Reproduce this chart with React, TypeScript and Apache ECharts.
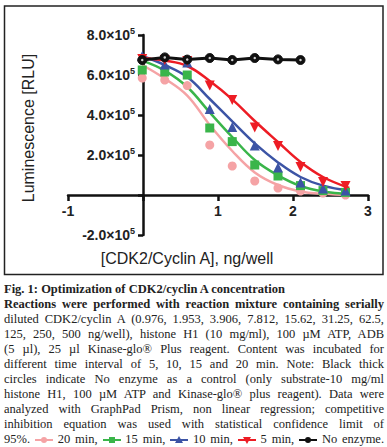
import React, { useEffect, useRef } from "react";
import * as echarts from "echarts";

// log10 of CDK2/Cyclin A concentration (ng/well)
const logConc = [-0.01, 0.29, 0.59, 0.89, 1.19, 1.49, 1.8, 2.1, 2.4, 2.7];
const fitX = [-0.01, 0.29, 0.59, 0.89, 1.19, 1.49, 1.8, 2.1, 2.4, 2.75];

// measured points (RLU)
const pink20 = [585000, 575000, 547000, 250000, 145000, 70000, 35000, 20000, 10000, 0];
const green15 = [625000, 615000, 600000, 335000, 267000, 150000, 95000, 47000, 22000, 13000];
const blue10 = [695000, 652000, 663000, 430000, 340000, 248000, 138000, 63000, 33000, 22000];
const red5 = [680000, 675000, 670000, 548000, 475000, 338000, 245000, 140000, 65000, 45000];
const noEnzyme = [675000, 688000, 677000, 685000, 675000, 685000, 678000, 675000];

// fitted curves (RLU)
const pinkFit = [650000, 582000, 497000, 350000, 220000, 113000, 50000, 18000, 6000, 0];
const greenFit = [672000, 622000, 540000, 413000, 290000, 175000, 98000, 45000, 18000, 6000];
const blueFit = [695000, 650000, 590000, 480000, 368000, 258000, 163000, 90000, 47000, 22000];
const redFit = [685000, 672000, 645000, 570000, 478000, 370000, 265000, 165000, 90000, 35000];

const yTicks = [-200000, 0, 200000, 400000, 600000, 800000];
const xTicks = [-1, 0, 1, 2, 3];

const C = {
  pink: "#f5a3a5",
  green: "#3ab54a",
  blue: "#3c54a5",
  red: "#ed1c24",
  black: "#111111",
};

const pair = (xs: number[], ys: number[]) => ys.map((y, i) => [xs[i], y]);

const captionLines: { text: string; bold?: boolean; last?: boolean }[] = [
  { text: "Fig. 1: Optimization of CDK2/cyclin A concentration", bold: true, last: true },
  { text: "Reactions were performed with reaction mixture containing serially", bold: true },
  { text: "diluted CDK2/cyclin A (0.976, 1.953, 3.906, 7.812, 15.62, 31.25, 62.5," },
  { text: "125, 250, 500 ng/well), histone H1 (10 mg/ml), 100 µM ATP, ADB" },
  { text: "(5 µl), 25 µl Kinase-glo® Plus reagent. Content was incubated for" },
  { text: "different time interval of 5, 10, 15 and 20 min. Note: Black thick" },
  { text: "circles indicate No enzyme as a control (only substrate-10 mg/ml" },
  { text: "histone H1, 100 µM ATP and Kinase-glo® plus reagent). Data were" },
  { text: "analyzed with GraphPad Prism, non linear regression; competitive" },
  { text: "inhibition equation was used with statistical confidence limit of" },
];

const legendItems = [
  { color: C.pink, shape: "circle", label: "20 min," },
  { color: C.green, shape: "square", label: "15 min," },
  { color: C.blue, shape: "up", label: "10 min," },
  { color: C.red, shape: "down", label: "5 min," },
  { color: C.black, shape: "circle", label: "No enzyme." },
];

function Mark({ color, shape }: { color: string; shape: string }) {
  let sh: React.CSSProperties = {};
  if (shape === "circle") sh = { width: 6, height: 6, borderRadius: "50%", background: color, left: 6, top: 1 };
  if (shape === "square") sh = { width: 6, height: 6, background: color, left: 6, top: 1 };
  if (shape === "up")
    sh = { width: 0, height: 0, borderLeft: "4px solid transparent", borderRight: "4px solid transparent", borderBottom: `7px solid ${color}`, left: 5, top: 0 };
  if (shape === "down")
    sh = { width: 0, height: 0, borderLeft: "4px solid transparent", borderRight: "4px solid transparent", borderTop: `7px solid ${color}`, left: 5, top: 1 };
  return (
    <span style={{ display: "inline-block", position: "relative", width: 18, height: 8, verticalAlign: "middle" }}>
      <span style={{ position: "absolute", left: 0, right: 0, top: 3, height: 2, background: color }} />
      <span style={{ position: "absolute", ...sh }} />
    </span>
  );
}

export default function App() {
  const ref = useRef<HTMLDivElement>(null);

  useEffect(() => {
    if (!ref.current) return;
    const chart = echarts.init(ref.current, null, { renderer: "svg" });
    const font = "'Liberation Sans', Arial, Helvetica, sans-serif";
    const fitSeries = (data: number[], color: string) => ({
      type: "line",
      data: pair(fitX, data),
      smooth: 0.4,
      showSymbol: false,
      symbol: "none",
      lineStyle: { color, width: 2.5 },
      z: 2,
      silent: true,
    });
    const pointSeries = (data: number[], color: string, symbol: string, size: number, rot = 0) => ({
      type: "scatter",
      data: pair(logConc, data),
      symbol,
      symbolSize: size,
      symbolRotate: rot,
      itemStyle: { color, opacity: 1 },
      z: 3,
      silent: true,
    });
    chart.setOption({
      animation: false,
      backgroundColor: "#ffffff",
      grid: { left: 68, top: 35, width: 300, height: 200, containLabel: false },
      xAxis: {
        type: "value",
        position: "bottom",
        offset: -40,
        min: xTicks[0],
        max: xTicks[xTicks.length - 1],
        interval: 1,
        axisLine: { onZero: false, lineStyle: { color: "#111", width: 2.5 } },
        axisTick: { show: true, length: 6, lineStyle: { color: "#111", width: 2.5 } },
        axisLabel: {
          margin: 9,
          color: "#222",
          fontFamily: font,
          fontWeight: "bold",
          fontSize: 14,
          formatter: (v: number) => (v === 0 ? "" : String(v)),
        },
        splitLine: { show: false },
      },
      yAxis: {
        type: "value",
        position: "left",
        offset: -75,
        min: yTicks[0],
        max: yTicks[yTicks.length - 1],
        interval: 200000,
        axisLine: { onZero: false, lineStyle: { color: "#111", width: 2.5 } },
        axisTick: { show: true, length: 5, lineStyle: { color: "#111", width: 2.5 } },
        axisLabel: {
          margin: 8,
          color: "#222",
          fontFamily: font,
          formatter: (v: number) => (v === 0 ? "" : `{m|${(v / 100000).toFixed(1)}×10}{s|5}`),
          rich: {
            m: { fontSize: 14, fontWeight: "bold", fontFamily: font, color: "#222" },
            s: { fontSize: 9, fontWeight: "bold", fontFamily: font, color: "#222", padding: [0, 0, 9, 0] },
          },
        },
        splitLine: { show: false },
      },
      graphic: [
        {
          type: "rect",
          shape: { x: 4.5, y: 6, width: 378.5, height: 268.5 },
          style: { fill: "none", stroke: "#222", lineWidth: 1.5 },
          silent: true,
        },
        {
          type: "text",
          x: 28,
          y: 128,
          rotation: Math.PI / 2,
          style: {
            text: "Luminescence [RLU]",
            fontFamily: font,
            fontSize: 16,
            fill: "#222",
            align: "center",
            verticalAlign: "middle",
          },
        },
        {
          type: "text",
          x: 187,
          y: 258,
          style: {
            text: "[CDK2/Cyclin A], ng/well",
            fontFamily: font,
            fontSize: 16,
            fill: "#222",
            align: "center",
            verticalAlign: "middle",
          },
        },
      ],
      series: [
        fitSeries(pinkFit, C.pink),
        fitSeries(greenFit, C.green),
        fitSeries(blueFit, C.blue),
        fitSeries(redFit, C.red),
        pointSeries(pink20, C.pink, "circle", 9),
        pointSeries(green15, C.green, "rect", 9),
        pointSeries(blue10, C.blue, "triangle", 10),
        pointSeries(red5, C.red, "triangle", 10, 180),
        {
          type: "line",
          data: pair(logConc, noEnzyme),
          symbol: "circle",
          symbolSize: 9,
          showSymbol: true,
          lineStyle: { color: C.black, width: 3 },
          itemStyle: { color: C.black, borderColor: C.black, borderWidth: 1 },
          z: 4,
          silent: true,
        },
        {
          type: "scatter",
          data: pair(logConc, noEnzyme),
          symbol: "circle",
          symbolSize: 2.5,
          itemStyle: { color: "#ffffff" },
          z: 5,
          silent: true,
        },
      ],
    });
    return () => chart.dispose();
  }, []);

  const lineStyle = (bold?: boolean, last?: boolean): React.CSSProperties => ({
    height: 15,
    lineHeight: "15px",
    fontWeight: bold ? "bold" : "normal",
    textAlign: last ? "left" : "justify",
    textAlignLast: last ? "left" : "justify",
    whiteSpace: "nowrap",
  } as React.CSSProperties);

  return (
    <div style={{ position: "absolute", left: 0, top: 0, width: 387, height: 447, background: "#fff", overflow: "hidden" }}>
      <div ref={ref} style={{ position: "absolute", left: 0, top: 0, width: 387, height: 280 }} />
      <div
        style={{
          position: "absolute",
          left: 4,
          top: 281.5,
          width: 380,
          fontFamily: "'Liberation Serif', 'Times New Roman', serif",
          fontSize: 12.5,
          color: "#222",
        }}
      >
        {captionLines.map((l, i) => (
          <div key={i} style={lineStyle(l.bold, l.last)}>
            {l.text}
          </div>
        ))}
        <div style={lineStyle(false, false)}>
          95%.{" "}
          {legendItems.map((it, i) => (
            <React.Fragment key={i}>
              <Mark color={it.color} shape={it.shape} /> {it.label}{i < legendItems.length - 1 ? " " : ""}
            </React.Fragment>
          ))}
        </div>
      </div>
    </div>
  );
}
